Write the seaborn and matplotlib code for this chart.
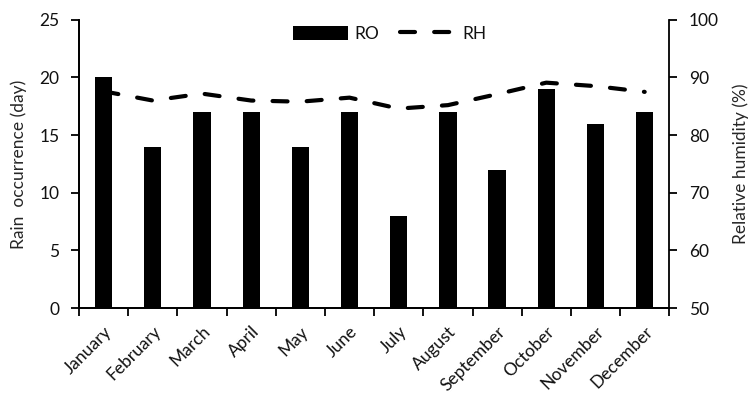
import numpy as np
import pandas as pd
import matplotlib
matplotlib.use("Agg")
import matplotlib.pyplot as plt
import seaborn as sns

months = ["January", "February", "March", "April", "May", "June",
          "July", "August", "September", "October", "November", "December"]
rain_days = [20, 14, 17, 17, 14, 17, 8, 17, 12, 19, 16, 17]
rel_humidity = [87.6, 86.0, 87.2, 86.0, 85.8, 86.5, 84.6, 85.2, 87.1, 89.1, 88.5, 87.5]

sns.set_theme(style="white")
plt.rcParams["font.family"] = ["Lato", "DejaVu Sans"]
plt.rcParams["font.size"] = 12.5
plt.rcParams["text.color"] = "#111111"

df = pd.DataFrame({"month": months, "RO": rain_days, "RH": rel_humidity})
pos = np.arange(len(months))

fig = plt.figure(figsize=(7.52, 4.05), dpi=100)
ax = fig.add_axes([0.105, 0.2395, 0.785, 0.7115])
ax2 = ax.twinx()

sns.barplot(data=df, x="month", y="RO", color="black", width=0.35,
            saturation=1, ax=ax, label="RO", linewidth=0, edgecolor="black")
sns.lineplot(x=pos, y=df["RH"], ax=ax2, color="black", lw=3.0,
             label="RH", legend=False)
line = ax2.lines[0]
line.set_dashes((3.6, 4.6))
line.set_dash_capstyle("round")

ax.set_xlim(-0.5, len(months) - 0.5)
ax.set_ylim(0, 25)
ax.set_yticks(np.arange(0, 26, 5))
ax2.set_ylim(50, 100)
ax2.set_yticks(np.arange(50, 101, 10))

# category labels at the centres, tick marks on the boundaries
ax.set_xticks(np.arange(-0.5, len(months), 1))
ax.set_xticklabels([])
ax.set_xticks(pos, minor=True)
ax.set_xticklabels(months, minor=True, rotation=45, ha="right",
                   rotation_mode="anchor", fontsize=12.5, color="#111111")
ax.tick_params(axis="x", which="minor", length=0, pad=11)
ax.tick_params(axis="x", which="major", direction="out", length=6,
               width=1.3, color="black", bottom=True)
ax.tick_params(axis="y", direction="out", length=6, width=1.3,
               color="black", left=True, labelsize=12.5, pad=8,
               labelcolor="#111111")
ax2.tick_params(axis="y", direction="out", length=6, width=1.3,
                color="black", right=True, labelsize=12.5, pad=8,
                labelcolor="#111111")

ax.set_xlabel("")
ax.set_ylabel("Rain  occurrence (day)", fontsize=12.5, labelpad=9)
ax2.set_ylabel("Relative humidity (%)", fontsize=12.5, labelpad=10)

for a in (ax, ax2):
    a.spines["top"].set_visible(False)
    for s in ("left", "right", "bottom"):
        a.spines[s].set_color("black")
        a.spines[s].set_linewidth(1.3)
    a.grid(False)
ax.spines["right"].set_visible(False)

h1, l1 = ax.get_legend_handles_labels()
h2, l2 = ax2.get_legend_handles_labels()
if ax.get_legend() is not None:
    ax.get_legend().remove()
ax2.legend(h1 + h2, l1 + l2, loc="center", bbox_to_anchor=(0.526, 0.951),
           ncol=2, frameon=False, handlelength=3.2, handleheight=0.85,
           handletextpad=0.35, columnspacing=1.2, fontsize=12.5)

fig.savefig("out.png", dpi=100)
